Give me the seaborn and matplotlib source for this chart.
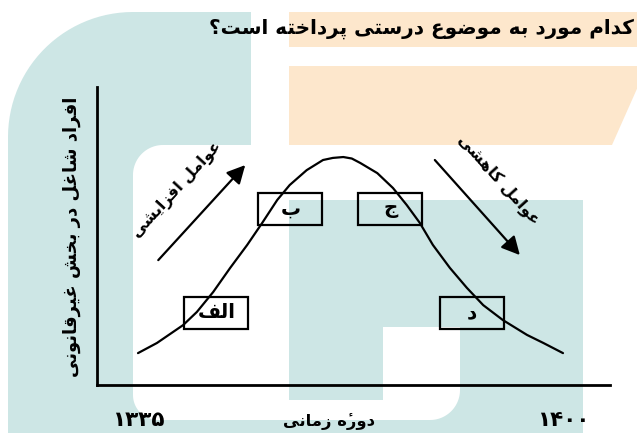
import numpy as np
import pandas as pd
import matplotlib
matplotlib.use("Agg")
import matplotlib.pyplot as plt
from matplotlib.patches import Polygon, Rectangle
from matplotlib import font_manager
from fontTools.ttLib import TTFont
import seaborn as sns

# ---------------- data ----------------
years = [1335.0, 1337.9, 1341.9, 1344.0, 1346.5, 1349.1, 1351.7, 1354.0, 1356.3,
         1358.2, 1360.8, 1363.3, 1364.8, 1366.4, 1367.7, 1369.0, 1371.6, 1374.0,
         1376.1, 1378.1, 1380.1, 1382.7, 1385.3, 1387.8, 1390.8, 1394.5, 1397.0, 1400.0]
values = [10.7, 14.1, 20.1, 24.5, 31.2, 39.3, 47.0, 54.4, 62.1,
          67.1, 72.1, 75.5, 76.2, 76.5, 76.0, 74.5, 71.1, 66.1,
          60.4, 54.4, 47.0, 39.3, 32.6, 26.8, 21.8, 16.8, 14.1, 10.7]

x_tick_years = [1335, 1400]
x_tick_labels = ["\u06F1\u06F3\u06F3\u06F5", "\u06F1\u06F4\u06F0\u06F0"]

box_labels = ["الف", "ب", "ج", "د"]
box_x = [1347.0, 1358.3, 1373.6, 1386.1]
box_y = [24.3, 59.1, 59.1, 24.2]

arrow_labels = ["عوامل افزایشی", "عوامل کاهشی"]
arrow_tail_x = [1338.1, 1380.4]
arrow_tail_y = [41.9, 75.5]
arrow_tip_x = [1351.4, 1393.4]
arrow_tip_y = [73.8, 43.6]
arrow_label_x = [1341.0, 1390.1]
arrow_label_y = [65.4, 68.8]

title_text = "کدام مورد به موضوع درستی پرداخته است؟"
y_label_text = "افراد شاغل در بخش غیرقانونی"
x_label_text = "دور\u06C0 زمانی"

# ---------------- Arabic-script shaping (presentation forms) ----------------
# each entry: (isolated, final, initial, medial); each form is a list of options
FORMS = {
    '\u0627': (['\uFE8D'], ['\uFE8E'], None, None),
    '\u0628': (['\uFE8F'], ['\uFE90'], ['\uFE91'], ['\uFE92']),
    '\u067E': (['\uFB56'], ['\uFB57'], ['\uFB58'], ['\uFB59']),
    '\u062A': (['\uFE95'], ['\uFE96'], ['\uFE97'], ['\uFE98']),
    '\u062C': (['\uFE9D'], ['\uFE9E'], ['\uFE9F'], ['\uFEA0']),
    '\u062E': (['\uFEA5'], ['\uFEA6'], ['\uFEA7'], ['\uFEA8']),
    '\u062F': (['\uFEA9'], ['\uFEAA'], None, None),
    '\u0631': (['\uFEAD'], ['\uFEAE'], None, None),
    '\u0632': (['\uFEAF'], ['\uFEB0'], None, None),
    '\u0633': (['\uFEB1'], ['\uFEB2'], ['\uFEB3'], ['\uFEB4']),
    '\u0634': (['\uFEB5'], ['\uFEB6'], ['\uFEB7'], ['\uFEB8']),
    '\u0636': (['\uFEBD'], ['\uFEBE'], ['\uFEBF'], ['\uFEC0']),
    '\u0639': (['\uFEC9'], ['\uFECA'], ['\uFECB'], ['\uFECC']),
    '\u063A': (['\uFECD'], ['\uFECE'], ['\uFECF'], ['\uFED0']),
    '\u0641': (['\uFED1'], ['\uFED2'], ['\uFED3'], ['\uFED4']),
    '\u0642': (['\uFED5'], ['\uFED6'], ['\uFED7'], ['\uFED8']),
    '\u06A9': (['\uFB8E', '\uFED9'], ['\uFB8F', '\uFEDA'], ['\uFB90', '\uFEDB'], ['\uFB91', '\uFEDC']),
    '\u0644': (['\uFEDD'], ['\uFEDE'], ['\uFEDF'], ['\uFEE0']),
    '\u0645': (['\uFEE1'], ['\uFEE2'], ['\uFEE3'], ['\uFEE4']),
    '\u0646': (['\uFEE5'], ['\uFEE6'], ['\uFEE7'], ['\uFEE8']),
    '\u0647': (['\uFEE9'], ['\uFEEA'], ['\uFEEB'], ['\uFEEC']),
    '\u0648': (['\uFEED'], ['\uFEEE'], None, None),
    '\u06CC': (['\uFBFC', '\uFEEF'], ['\uFBFD', '\uFEF0'], ['\uFBFE', '\uFEF3'], ['\uFBFF', '\uFEF4']),
    '\u06C0': (['\uFBA4', '\uFEE9\u0654', '\uFEE9'], ['\uFBA5', '\uFEEA\u0654', '\uFEEA'], None, None),
}

_cmaps = {}


def cmap_for(weight):
    if weight not in _cmaps:
        path = font_manager.findfont(font_manager.FontProperties(family="DejaVu Sans", weight=weight))
        _cmaps[weight] = TTFont(path).getBestCmap()
    return _cmaps[weight]


def shape(text, weight="bold"):
    cmap = cmap_for(weight)
    chars = list(text)

    def joins_next(c):
        f = FORMS.get(c)
        return f is not None and f[2] is not None

    tokens = []
    for i, c in enumerate(chars):
        if c not in FORMS:
            tokens.append(c)
            continue
        prev = chars[i - 1] if i > 0 else None
        nxt = chars[i + 1] if i + 1 < len(chars) else None
        jp = prev is not None and joins_next(prev)
        jn = nxt is not None and nxt in FORMS and joins_next(c)
        idx = 3 if (jp and jn) else (1 if jp else (2 if jn else 0))
        g = c
        for opt in FORMS[c][idx]:
            if all(ord(ch) in cmap for ch in opt):
                g = opt
                break
        tokens.append(g)
    return "".join(reversed(tokens))


def pick_weight(text):
    s = shape(text, "bold")
    cm = cmap_for("bold")
    if all(ord(ch) in cm or ch == " " for ch in s):
        return "bold"
    return "normal"


# ---------------- figure ----------------
sns.set_style("white")
plt.rcParams["font.family"] = ["DejaVu Sans"]

W, H = 637, 433
fig = plt.figure(figsize=(W / 100, H / 100), dpi=100)
renderer = fig.canvas.get_renderer()


def fit(s, target, weight):
    t = fig.text(0, 0, s, fontsize=10, fontweight=weight)
    bb = t.get_window_extent(renderer)
    t.remove()
    return 10 * target / bb.width, bb.height / 10


# background decoration axes (pixel coordinates)
bg = fig.add_axes([0, 0, 1, 1], zorder=0)
bg.set_xlim(0, W)
bg.set_ylim(H, 0)
bg.axis("off")

TEAL = "#cde6e5"
ORANGE = "#fde7cc"


def rounded_poly(x0, y0, x1, y1, tl=0, tr=0, br=0, bl=0, n=30):
    pts = []

    def corner(cx, cy, r, a0, a1, px, py):
        if r <= 0:
            pts.append((px, py))
            return
        for a in np.linspace(np.radians(a0), np.radians(a1), n):
            pts.append((cx + r * np.cos(a), cy + r * np.sin(a)))

    corner(x0 + tl, y0 + tl, tl, 180, 270, x0, y0)
    corner(x1 - tr, y0 + tr, tr, 270, 360, x1, y0)
    corner(x1 - br, y1 - br, br, 0, 90, x1, y1)
    corner(x0 + bl, y1 - bl, bl, 90, 180, x0, y1)
    return pts


def add_poly(pts, color):
    bg.add_patch(Polygon(pts, closed=True, facecolor=color, edgecolor="none"))


add_poly(rounded_poly(8, 12, 251, 440, tl=125), TEAL)
add_poly(rounded_poly(251, 200, 583, 440), TEAL)
add_poly(rounded_poly(133, 145, 460, 420, tl=30, bl=25, br=30), "white")
add_poly(rounded_poly(289, 200, 383, 400), TEAL)
add_poly(rounded_poly(383, 200, 583, 327), TEAL)
add_poly(rounded_poly(289, 12, 640, 47), ORANGE)
add_poly([(289, 66), (640, 66), (640, 82), (612, 145), (289, 145)], ORANGE)

# title
tw = pick_weight(title_text)
fs_title, _ = fit(shape(title_text, tw), 426, tw)
bg.text(634, 29, shape(title_text, tw), ha="right", va="center",
        fontsize=fs_title, fontweight=tw, color="black")

# chart axes
L, R, T, B = 97, 610, 87, 385
ax = fig.add_axes([L / W, (H - B) / H, (R - L) / W, (B - T) / H], zorder=2)
ax.patch.set_alpha(0)

df = pd.DataFrame({"year": years, "value": values})
sns.lineplot(data=df, x="year", y="value", ax=ax, color="black",
             linewidth=1.6, legend=False)

ax.set_xlim(1328.73, 1407.19)
ax.set_ylim(0, 100)
for side in ["top", "right"]:
    ax.spines[side].set_visible(False)
for side in ["left", "bottom"]:
    ax.spines[side].set_color("black")
    ax.spines[side].set_linewidth(2.0)
ax.set_yticks([])

# x tick labels
fs_tick, hrat = fit(x_tick_labels[0], 52, "bold")
tick_h = hrat * fs_tick
pad_px = (421 - B) - tick_h / 2
ax.set_xticks(x_tick_years, labels=x_tick_labels, fontweight="bold", fontsize=fs_tick)
ax.tick_params(axis="x", length=0, pad=pad_px * 0.72, colors="black")

# axis labels
xw = pick_weight(x_label_text)
fs_xl, _ = fit(shape(x_label_text, xw), 92, xw)
ax.set_xlabel(shape(x_label_text, xw), fontsize=fs_xl, fontweight=xw, color="black")
ax.xaxis.label.set_va("center")
ax.xaxis.set_label_coords((329 - L) / (R - L), -(421 - B) / (B - T))

yw = pick_weight(y_label_text)
fs_yl, _ = fit(shape(y_label_text, yw), 281, yw)
ax.set_ylabel(shape(y_label_text, yw), fontsize=fs_yl, fontweight=yw, color="black")
ax.yaxis.label.set_va("center")
ax.yaxis.set_label_coords((72 - L) / (R - L), (B - 237) / (B - T))

# boxes
BOX_W, BOX_H = 9.8, 10.7
bw = pick_weight(box_labels[0])
fs_box, _ = fit(shape(box_labels[0], bw), 38, bw)
for lab, bx, by in zip(box_labels, box_x, box_y):
    ax.add_patch(Rectangle((bx - BOX_W / 2, by - BOX_H / 2), BOX_W, BOX_H,
                           fill=False, edgecolor="black", linewidth=1.6, zorder=3))
    ax.text(bx, by, shape(lab, bw), ha="center", va="center",
            fontsize=fs_box, fontweight=bw, color="black", zorder=4)

# arrows with labels
arrow_targets = [125, 115]
arrow_rot = [47.5, -48.0]
for lab, tx, ty, hx, hy, lx, ly, tgt, rot in zip(arrow_labels, arrow_tail_x, arrow_tail_y,
                                                 arrow_tip_x, arrow_tip_y, arrow_label_x,
                                                 arrow_label_y, arrow_targets, arrow_rot):
    ax.annotate("", xy=(hx, hy), xytext=(tx, ty),
                arrowprops=dict(arrowstyle="-|>,head_length=0.55,head_width=0.28",
                                color="black", lw=1.6, shrinkA=0, shrinkB=0,
                                mutation_scale=20))
    aw = pick_weight(lab)
    fs_a, _ = fit(shape(lab, aw), tgt, aw)
    ax.text(lx, ly, shape(lab, aw), ha="center", va="center", rotation=rot,
            rotation_mode="anchor", fontsize=fs_a, fontweight=aw, color="black")

fig.savefig("out.png", dpi=100)
